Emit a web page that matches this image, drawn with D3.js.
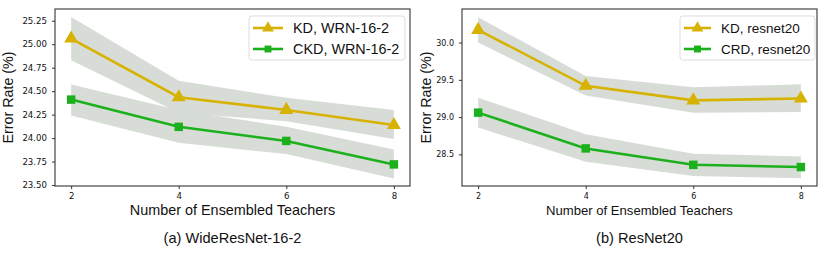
<!DOCTYPE html>
<html>
<head>
<meta charset="utf-8">
<script src="https://cdn.jsdelivr.net/npm/d3@7"></script>
<style>
  body { margin: 0; background: #fff; }
  svg text { fill: #111; }
</style>
</head>
<body>
<div id="chart"></div>
<script>
// number of teachers
var teachers = [2, 4, 6, 8];

// (a) WideResNet-16-2
var kdWrn = [25.06, 24.435, 24.30, 24.14];
var kdWrnLo = [24.83, 24.27, 24.18, 23.99];
var kdWrnHi = [25.29, 24.61, 24.43, 24.30];
var ckdWrn = [24.41, 24.12, 23.97, 23.72];
var ckdWrnLo = [24.24, 23.95, 23.83, 23.57];
var ckdWrnHi = [24.57, 24.30, 24.12, 23.88];
var ticksA = [23.50, 23.75, 24.00, 24.25, 24.50, 24.75, 25.00, 25.25];

// (b) ResNet20
var kdRes = [30.17, 29.42, 29.225, 29.25];
var kdResLo = [30.00, 29.29, 29.06, 29.07];
var kdResHi = [30.34, 29.55, 29.40, 29.44];
var crdRes = [29.06, 28.58, 28.36, 28.33];
var crdResLo = [28.86, 28.40, 28.21, 28.18];
var crdResHi = [29.26, 28.77, 28.51, 28.47];
var ticksB = [28.5, 29.0, 29.5, 30.0];

var gold = "#d8b200", green = "#1cb01c", band = "#d5dad5";

var svg = d3.select("#chart").append("svg")
    .attr("width", 830)
    .attr("height", 255);

function marker(shape, big) {
  var tri = shape === "tri";
  return d3.symbol().type(tri ? d3.symbolTriangle : d3.symbolSquare)
    .size(tri ? (big ? 85 : 60) : (big ? 72 : 48));
}

function panel(opt) {
  var left = opt.left, top = 9, w = 355, h = 177;
  var g = svg.append("g").attr("transform", "translate(" + left + "," + top + ")");

  var x = d3.scaleLinear().domain([1.7, 8.3]).range([0, w]);
  var y = d3.scaleLinear().domain(opt.ylim).range([h, 0]);

  var area = d3.area()
      .x(function(d) { return x(d.x); })
      .y0(function(d) { return y(d.lo); })
      .y1(function(d) { return y(d.hi); });
  var line = d3.line()
      .x(function(d) { return x(d.x); })
      .y(function(d) { return y(d.v); });

  opt.series.forEach(function(s) {
    var pts = teachers.map(function(t, i) {
      return {x: t, v: s.vals[i], lo: s.lo[i], hi: s.hi[i]};
    });
    g.append("path").datum(pts)
      .attr("d", area)
      .attr("fill", band)
      .attr("fill-opacity", 0.95);
    s.pts = pts;
  });

  opt.series.forEach(function(s) {
    g.append("path").datum(s.pts)
      .attr("d", line)
      .attr("fill", "none")
      .attr("stroke", s.color)
      .attr("stroke-width", 2.6);
    g.selectAll(null).data(s.pts).enter().append("path")
      .attr("transform", function(d) { return "translate(" + x(d.x) + "," + y(d.v) + ")"; })
      .attr("d", marker(s.shape, true))
      .attr("fill", s.color);
  });

  // axes
  var xAxis = d3.axisBottom(x).tickValues(teachers).tickSize(3).tickPadding(4)
      .tickFormat(d3.format("d"));
  var yAxis = d3.axisLeft(y).tickValues(opt.ticks).tickSize(3).tickPadding(5)
      .tickFormat(d3.format(opt.fmt));

  var gx = g.append("g").attr("transform", "translate(0," + h + ")").call(xAxis);
  var gy = g.append("g").call(yAxis);
  [gx, gy].forEach(function(a) {
    a.select(".domain").remove();
    a.selectAll("line").attr("stroke", "#333");
    a.selectAll("text").attr("font-family", "DejaVu Sans").attr("font-size", opt.tickFont).attr("fill", "#111");
  });

  g.append("rect")
    .attr("width", w).attr("height", h)
    .attr("fill", "none").attr("stroke", "#333").attr("stroke-width", 1.1);

  // legend
  var lg = g.append("g").attr("transform", "translate(" + opt.legX + ",7)");
  lg.append("rect")
    .attr("width", opt.legW).attr("height", 44)
    .attr("rx", 3)
    .attr("fill", "#fff").attr("fill-opacity", 0.85)
    .attr("stroke", "#ddd");
  opt.series.forEach(function(s, i) {
    var yy = 12 + i * 21;
    lg.append("line").attr("x1", 4).attr("x2", opt.legLine).attr("y1", yy).attr("y2", yy)
      .attr("stroke", s.color).attr("stroke-width", 2.6);
    lg.append("path")
      .attr("transform", "translate(" + (4 + opt.legLine) / 2 + "," + yy + ")")
      .attr("d", marker(s.shape, false))
      .attr("fill", s.color);
    lg.append("text").attr("x", opt.legLine + 10).attr("y", yy + 5)
      .attr("font-family", "Liberation Sans").attr("font-size", opt.legFont)
      .text(s.name);
  });

  // labels
  svg.append("text")
    .attr("transform", "translate(" + (left - opt.ylabOff) + "," + (top + h / 2) + ") rotate(-90)")
    .attr("text-anchor", "middle")
    .attr("font-family", "Liberation Sans").attr("font-size", 14.3)
    .text("Error Rate (%)");
  svg.append("text")
    .attr("x", left + w / 2).attr("y", 215)
    .attr("text-anchor", "middle")
    .attr("font-family", "Liberation Sans").attr("font-size", opt.xlabFont)
    .text("Number of Ensembled Teachers");
  svg.append("text")
    .attr("x", left + w / 2).attr("y", 243)
    .attr("text-anchor", "middle")
    .attr("font-family", "Liberation Sans").attr("font-size", 14.6)
    .text(opt.caption);
}

panel({
  left: 55, ylim: [23.49, 25.375], ticks: ticksA, fmt: ".2f",
  legX: 194, legW: 156, legLine: 34, legFont: 14.4,
  tickFont: 8.6, xlabFont: 14.4, ylabOff: 42,
  caption: "(a) WideResNet-16-2",
  series: [
    {name: "KD, WRN-16-2", vals: kdWrn, lo: kdWrnLo, hi: kdWrnHi, color: gold, shape: "tri"},
    {name: "CKD, WRN-16-2", vals: ckdWrn, lo: ckdWrnLo, hi: ckdWrnHi, color: green, shape: "sq"}
  ]
});

panel({
  left: 462, ylim: [28.076, 30.45], ticks: ticksB, fmt: ".1f",
  legX: 218, legW: 135, legLine: 31, legFont: 13.5,
  tickFont: 8, xlabFont: 13.1, ylabOff: 31,
  caption: "(b) ResNet20",
  series: [
    {name: "KD, resnet20", vals: kdRes, lo: kdResLo, hi: kdResHi, color: gold, shape: "tri"},
    {name: "CRD, resnet20", vals: crdRes, lo: crdResLo, hi: crdResHi, color: green, shape: "sq"}
  ]
});
</script>
</body>
</html>
